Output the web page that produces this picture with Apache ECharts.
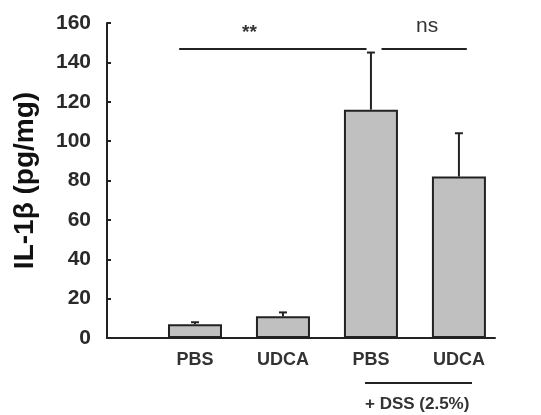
<!DOCTYPE html>
<html><head><meta charset="utf-8">
<script src="https://cdn.jsdelivr.net/npm/echarts@6/dist/echarts.min.js"></script>
<style>html,body{margin:0;padding:0;background:#fff}#c{width:541px;height:415px}</style>
</head><body><div id="c"></div>
<script>
const categories = ['PBS', 'UDCA', 'PBS', 'UDCA'];
const means = [7, 11, 116, 82];
const errUpper = [8, 13, 145, 104];
const yTicks = [0, 20, 40, 60, 80, 100, 120, 140, 160];
const sigBrackets = [[0.82, 2.95, 147], [3.12, 4.09, 147]];

const positions = categories.map((c, i) => i + 1);
const chart = echarts.init(document.getElementById('c'));
const font = '"Liberation Sans", Arial, sans-serif';
const dark = '#222';

chart.setOption({
  animation: false,
  grid: { left: 107, right: 46, top: 23, bottom: 77 },
  xAxis: {
    type: 'value', min: 0, max: 4.41, interval: 1,
    axisLine: { show: true, lineStyle: { color: dark, width: 2 } },
    axisTick: { show: false },
    splitLine: { show: false },
    axisLabel: {
      showMaxLabel: false, margin: 13,
      fontFamily: font, fontWeight: 'bold', fontSize: 18, color: '#333',
      formatter: v => (Number.isInteger(v) && v >= 1 && v <= categories.length) ? categories[v - 1] : ''
    }
  },
  yAxis: {
    type: 'value', min: yTicks[0], max: yTicks[yTicks.length - 1], interval: yTicks[1] - yTicks[0],
    axisLine: { show: true, lineStyle: { color: dark, width: 2 } },
    axisTick: { show: true, inside: true, length: 4, lineStyle: { color: dark, width: 2 } },
    splitLine: { show: false },
    axisLabel: { margin: 16, fontFamily: font, fontWeight: 'bold', fontSize: 21, color: '#2a2a2a' },
    name: 'IL-1β (pg/mg)', nameLocation: 'middle', nameGap: 68, nameRotate: 90,
    nameTextStyle: { fontFamily: font, fontWeight: 'bold', fontSize: 28, color: '#111' }
  },
  series: [
    {
      type: 'bar', barWidth: 54,
      data: positions.map((p, i) => [p, means[i]]),
      itemStyle: { color: '#c0c0c0', borderColor: dark, borderWidth: 2 },
      markLine: {
        silent: true, symbol: 'none', label: { show: false },
        lineStyle: { color: dark, width: 2, type: 'solid' },
        data: sigBrackets.map(b => [{ coord: [b[0], b[2]] }, { coord: [b[1], b[2]] }])
      }
    },
    {
      type: 'custom', z: 1,
      data: positions.map((p, i) => [p, means[i], errUpper[i]]),
      renderItem: (params, api) => {
        const base = api.coord([api.value(0), api.value(1)]);
        const top = api.coord([api.value(0), api.value(2)]);
        const st = { stroke: dark, lineWidth: 2 };
        return { type: 'group', children: [
          { type: 'line', shape: { x1: base[0], y1: base[1], x2: top[0], y2: top[1] }, style: st },
          { type: 'line', shape: { x1: top[0] - 4, y1: top[1], x2: top[0] + 4, y2: top[1] }, style: st }
        ]};
      }
    }
  ],
  graphic: [
    { type: 'text', left: 242, top: 23, style: { text: '**', font: 'bold 19px ' + font, fill: '#333' } },
    { type: 'text', left: 416, top: 16, style: { text: 'ns', font: '21px ' + font, fill: '#333' } },
    { type: 'line', shape: { x1: 365, y1: 383, x2: 472, y2: 383 }, style: { stroke: dark, lineWidth: 2 } },
    { type: 'text', left: 365, top: 396, style: { text: '+ DSS (2.5%)', font: 'bold 17px ' + font, fill: '#333' } }
  ]
});
</script></body></html>
